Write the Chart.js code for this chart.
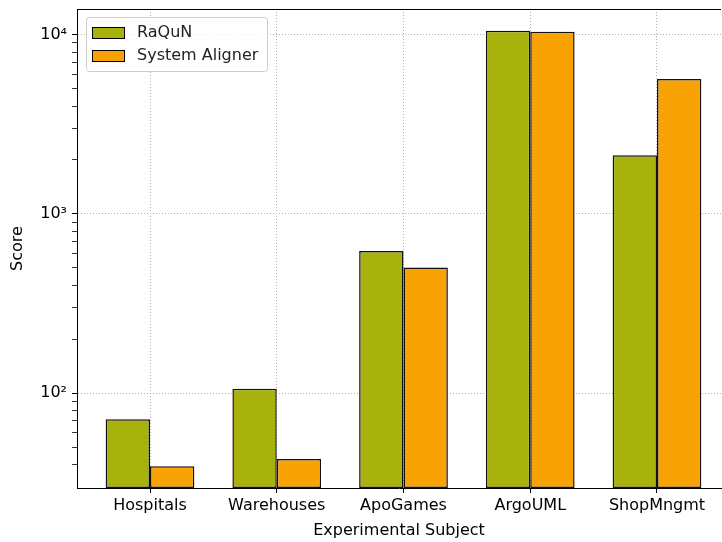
<!DOCTYPE html>
<html>
<head>
<meta charset="utf-8">
<script src="https://cdn.jsdelivr.net/npm/chart.js@4.4.0/dist/chart.umd.min.js"></script>
<style>
  html, body { margin: 0; padding: 0; background: #fff; }
  #wrap { width: 722px; height: 542px; }
</style>
</head>
<body>
<div id="wrap"><canvas id="chart" width="722" height="542"></canvas></div>
<script>
// Data
const categories = ['Hospitals', 'Warehouses', 'ApoGames', 'ArgoUML', 'ShopMngmt'];
const raqunScores = [71.6, 106, 622, 10530, 2126];
const alignerScores = [39.1, 43, 503, 10390, 5665];
const seriesLabels = ['RaQuN', 'System Aligner'];
const seriesColors = ['#a8b20d', '#f9a204'];

const FONT = 'DejaVu Sans';
const sup = { '0': '\u2070', '1': '\u00b9', '2': '\u00b2', '3': '\u00b3', '4': '\u2074', '5': '\u2075' };

function isDecade(v) {
    const e = Math.log10(v);
    return Math.abs(e - Math.round(e)) < 1e-9;
}
function isLogTick(v) {
    const e = Math.floor(Math.log10(v) + 1e-9);
    const s = v / Math.pow(10, e);
    return Math.abs(s - Math.round(s)) < 1e-6;
}

// Spine on top + legend box inside the plot area
const framePlugin = {
    id: 'frame',
    afterDraw(chart) {
        const { ctx, chartArea } = chart;
        ctx.save();
        ctx.strokeStyle = '#000';
        ctx.lineWidth = 1;
        ctx.beginPath();
        ctx.moveTo(chartArea.left, chartArea.top + 0.5);
        ctx.lineTo(chartArea.right, chartArea.top + 0.5);
        ctx.stroke();

        // legend
        const x = chartArea.left + 9, y = chartArea.top + 8, w = 181, h = 54;
        ctx.fillStyle = 'rgba(255,255,255,0.8)';
        ctx.strokeStyle = '#cccccc';
        ctx.beginPath();
        ctx.roundRect(x + 0.5, y + 0.5, w, h, 3);
        ctx.fill();
        ctx.stroke();
        ctx.font = '16px "' + FONT + '"';
        ctx.textBaseline = 'middle';
        chart.data.datasets.forEach((ds, i) => {
            const ry = y + 10 + i * 23;
            ctx.fillStyle = ds.backgroundColor;
            ctx.fillRect(x + 6.5, ry + 0.5, 32, 11);
            ctx.strokeStyle = '#000';
            ctx.strokeRect(x + 6.5, ry + 0.5, 32, 11);
            ctx.fillStyle = '#222';
            ctx.fillText(ds.label, x + 51, ry + 6);
        });
        ctx.restore();
    }
};

const datasets = [raqunScores, alignerScores].map((vals, i) => ({
    label: seriesLabels[i],
    data: vals.map((v, j) => ({ x: j, y: v })),
    backgroundColor: seriesColors[i],
    borderColor: '#111',
    borderWidth: 1.5,
    borderSkipped: false,
    categoryPercentage: 0.7,
    barPercentage: 1.0
}));

new Chart(document.getElementById('chart'), {
    type: 'bar',
    data: { datasets: datasets },
    plugins: [framePlugin],
    options: {
        responsive: false,
        animation: false,
        layout: { padding: { top: 9, right: 1, left: 0, bottom: 0 } },
        plugins: {
            legend: { display: false },
            tooltip: { enabled: false }
        },
        scales: {
            x: {
                type: 'linear',
                offset: false,
                min: -0.576,
                max: 4.505,
                z: 1,
                afterBuildTicks: scale => {
                    scale.ticks = categories.map((c, i) => ({ value: i }));
                },
                afterFit: scale => {
                    scale.height = 54;
                    scale.paddingLeft = 0;
                    scale.paddingRight = 0;
                },
                ticks: {
                    autoSkip: false,
                    maxRotation: 0,
                    color: '#000',
                    padding: 3,
                    font: { family: FONT, size: 16 },
                    callback: v => categories[v]
                },
                grid: {
                    offset: false,
                    color: '#b0b0b0',
                    tickColor: '#000',
                    tickLength: 5,
                    lineWidth: 1
                },
                border: { color: '#000', width: 1, dash: [1, 2] },
                title: {
                    display: true,
                    text: 'Experimental Subject',
                    color: '#000',
                    font: { family: FONT, size: 16 },
                    padding: { top: 2, bottom: 2 }
                }
            },
            y: {
                type: 'logarithmic',
                min: 29.6,
                max: 13910,
                z: 1,
                afterBuildTicks: scale => {
                    scale.ticks = scale.ticks.filter(t => isLogTick(t.value));
                },
                afterFit: scale => {
                    scale.width = 77;
                    scale.paddingTop = 0;
                    scale.paddingBottom = 0;
                },
                ticks: {
                    autoSkip: false,
                    color: '#000',
                    padding: 5,
                    font: { family: FONT, size: 16 },
                    callback: v => isDecade(v) ? '10' + sup[String(Math.round(Math.log10(v)))] : ''
                },
                grid: {
                    color: ctx => (ctx.tick && isDecade(ctx.tick.value)) ? '#b0b0b0' : 'rgba(0,0,0,0)',
                    tickColor: '#000',
                    tickLength: 5,
                    tickWidth: ctx => (ctx.tick && isDecade(ctx.tick.value)) ? 1 : 0.8,
                    lineWidth: 1
                },
                border: { color: '#000', width: 1, dash: [1, 2] },
                title: {
                    display: true,
                    text: 'Score',
                    color: '#000',
                    font: { family: FONT, size: 16 },
                    padding: { top: 8, bottom: 2 }
                }
            }
        }
    }
});
</script>
</body>
</html>
